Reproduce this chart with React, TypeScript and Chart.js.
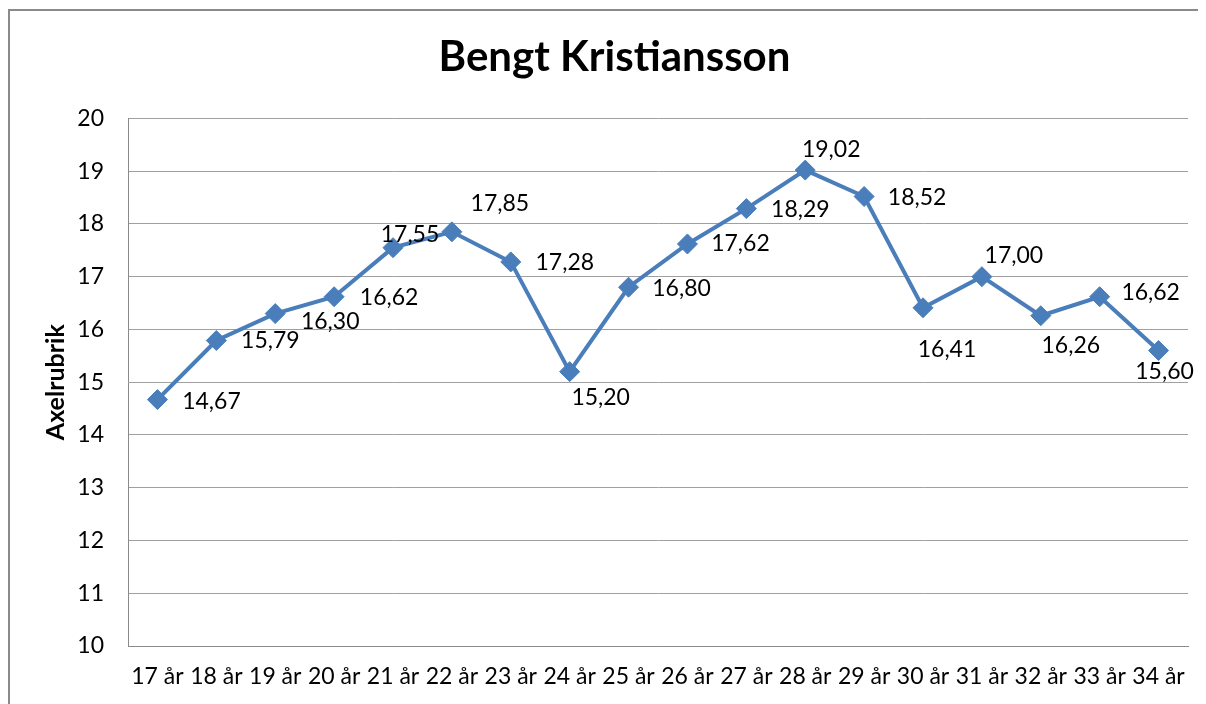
import React, { useEffect, useRef } from "react";
import { Chart, registerables } from "chart.js";

Chart.register(...registerables);

const title = "Bengt Kristiansson";
const yAxisTitle = "Axelrubrik";
const categories = ["17 år", "18 år", "19 år", "20 år", "21 år", "22 år", "23 år", "24 år", "25 år", "26 år", "27 år", "28 år", "29 år", "30 år", "31 år", "32 år", "33 år", "34 år"];
const values = [14.67, 15.79, 16.3, 16.62, 17.55, 17.85, 17.28, 15.2, 16.8, 17.62, 18.29, 19.02, 18.52, 16.41, 17.0, 16.26, 16.62, 15.6];
const yMin = 10;
const yMax = 20;
const yStep = 1;

// label placement (style): offset of label centre from point, px
const labelOffsets: [number, number][] = [
  [54, 2], [54, 0], [55, 8], [55, 1], [17, -13], [48, -28], [54, 1], [31, 26], [53, 1],
  [53, 0], [54, 1], [26, -21], [53, 1], [24, 42], [32, -21], [30, 30], [51, -4], [6, 21],
];

const FONT = "Lato, 'Open Sans', sans-serif";
const LINE = "#4A7EBB";

const labelPlugin = {
  id: "pointLabels",
  afterDatasetsDraw(chart: any) {
    const ctx = chart.ctx;
    const meta = chart.getDatasetMeta(0);
    ctx.save();
    ctx.font = `23px ${FONT}`;
    ctx.fillStyle = "#000";
    ctx.textAlign = "center";
    ctx.textBaseline = "middle";
    meta.data.forEach((el: any, i: number) => {
      const [dx, dy] = labelOffsets[i] || [50, 0];
      const txt = values[i].toFixed(2).replace(".", ",");
      ctx.fillText(txt, el.x + dx, el.y + dy);
    });
    ctx.restore();
  },
};

export default function App() {
  const ref = useRef<HTMLCanvasElement | null>(null);
  useEffect(() => {
    document.documentElement.style.overflow = "hidden";
    const canvas = ref.current!;
    const chart = new Chart(canvas, {
      type: "line",
      data: {
        labels: categories,
        datasets: [
          {
            data: values,
            borderColor: LINE,
            backgroundColor: LINE,
            borderWidth: 4,
            pointStyle: "rectRot",
            pointRadius: 10,
            pointBackgroundColor: LINE,
            pointBorderColor: LINE,
            pointBorderWidth: 1,
            tension: 0,
          },
        ],
      },
      options: {
        responsive: false,
        animation: false,
        devicePixelRatio: 1,
        layout: { padding: { left: 33, right: 18, top: 0, bottom: 0 } },
        plugins: {
          legend: { display: false },
          tooltip: { enabled: false },
          title: {
            display: true,
            text: title,
            color: "#000",
            font: { family: FONT, size: 42, weight: "bold", lineHeight: 1.2 },
            padding: { top: 24, bottom: 36 },
          },
        },
        scales: {
          x: {
            offset: true,
            grid: { display: false, drawTicks: false },
            border: { display: true, color: "#8a8a8a", width: 1 },
            ticks: { color: "#000", font: { family: FONT, size: 23 }, padding: 17, maxRotation: 0, autoSkip: false },
            afterFit: (s: any) => { s.height = 58; },
          },
          y: {
            min: yMin,
            max: yMax,
            grid: { color: "#a0a0a0", lineWidth: 1, drawTicks: false },
            border: { display: true, color: "#8a8a8a", width: 1 },
            ticks: { stepSize: yStep, color: "#000", font: { family: FONT, size: 23 }, padding: 24 },
            title: {
              display: true,
              text: yAxisTitle,
              color: "#000",
              font: { family: FONT, size: 25, weight: "bold" },
              padding: 0,
            },
            afterFit: (s: any) => { s.width = 87; },
          },
        },
      },
      plugins: [labelPlugin],
    });
    return () => chart.destroy();
  }, []);
  return (
    <div style={{ position: "relative", width: 1198, height: 696 }}>
      <canvas ref={ref} width={1198} height={696} style={{ display: "block", width: 1198, height: 696 }} />
      <div style={{ position: "absolute", left: 0, top: 1, width: 2, height: 700, background: "#8a8a8a" }} />
      <div style={{ position: "absolute", left: 0, top: 1, width: 1200, height: 2, background: "#8a8a8a" }} />
    </div>
  );
}
